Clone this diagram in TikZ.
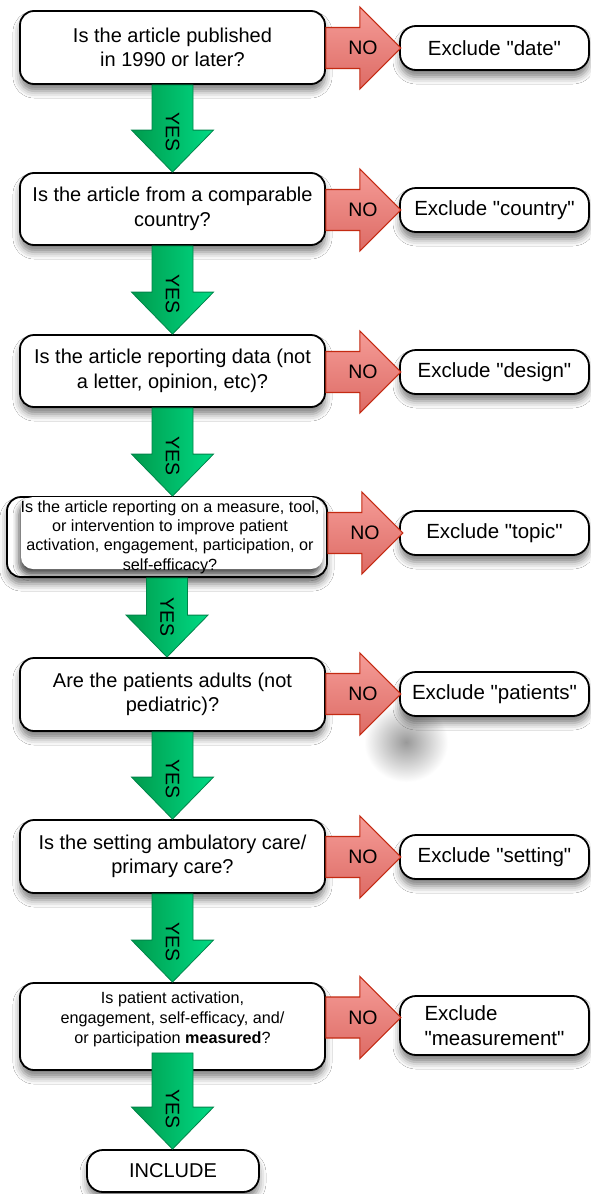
\documentclass[tikz,border=0pt]{standalone}
\usepackage{fontspec}
\setmainfont{Liberation Sans}[Ligatures=TeXOff]
\usetikzlibrary{calc,shadows.blur}
\definecolor{noTop}{HTML}{F59C97}
\definecolor{noBot}{HTML}{DD6B65}
\definecolor{noEdge}{HTML}{C42A12}
\definecolor{yesL}{HTML}{009A4C}
\definecolor{yesR}{HTML}{00DA84}
\definecolor{yesEdge}{HTML}{00854A}
\tikzset{
  boxshadow/.style={blur shadow={shadow xshift=0pt, shadow yshift=-7pt, shadow blur radius=7pt, shadow opacity=50}},
  qbox/.style={draw=black, line width=1.8pt, rounded corners=14pt, fill=white, align=center, inner sep=2pt,
    font=\fontsize{20}{24.5}\selectfont, boxshadow, minimum width=305pt},
  ebox/.style={qbox, rounded corners=16pt, minimum width=189pt, minimum height=44pt, font=\fontsize{20.5}{25}\selectfont},
  noarrow/.style={draw=noEdge, line width=1.1pt, top color=noTop, bottom color=noBot, line join=miter},
  yesarrow/.style={draw=yesEdge, line width=0.8pt, left color=yesL, right color=yesR, line join=miter},
  notext/.style={font=\fontsize{19.5}{19.5}\selectfont, inner sep=0pt},
  yestext/.style={font=\fontsize{19.5}{19.5}\selectfont, inner sep=0pt, rotate=-90},
}
\newcommand\noarrow[2]{%
  \draw[noarrow] ($(#2)+(0,20.5)$) -- ($(#2)+(34,20.5)$) -- ($(#2)+(34,41)$) -- ($(#2)+(75,0)$)
     -- ($(#2)+(34,-41)$) -- ($(#2)+(34,-20.5)$) -- ($(#2)+(0,-20.5)$) -- cycle;
  \node[notext] (#1) at ($(#2)+(37,0)$) {NO};}
\newcommand\yesarrow[3]{%
  \draw[yesarrow] let \p1=(#2), \p2=(#3) in (\x1-20.5pt,\y1) -- (\x1+20.5pt,\y1) -- (\x1+20.5pt,\y2+42pt)
     -- (\x1+41pt,\y2+42pt) -- (\x1,\y2) -- (\x1-41pt,\y2+42pt) -- (\x1-20.5pt,\y2+42pt) -- cycle;
  \path let \p1=(#2), \p2=(#3) in node[yestext] (#1) at (\x1,\y2+40pt) {YES};}
\begin{document}
\begin{tikzpicture}[x=1pt,y=-1pt]
\fill[white] (0,0) rectangle (590,1194);
\useasboundingbox (0,0) rectangle (590,1194);
% stray shadow
\shade[inner color=black!40, outer color=white] (406,742) ellipse [x radius=42pt, y radius=40pt];

% question boxes
\node[qbox, minimum height=73pt] (q1) at (172.5,47.5) {Is the article published\\in 1990 or later?};
\node[qbox, minimum height=72pt] (q2) at (172.5,209) {Is the article from a comparable\\country?};
\node[qbox, minimum height=72pt] (q3) at (172.5,371) {Is the article reporting data (not\\a letter, opinion, etc)?};
\node[qbox, minimum width=320pt, minimum height=80pt] (q4) at (167,537) {};
\node[fill=white, rounded corners=12pt, minimum width=302pt, minimum height=72pt,
      blur shadow={shadow xshift=-2pt, shadow yshift=-6pt, shadow blur radius=6pt, shadow opacity=70}] (q4in) at (172,533) {};
\node[align=center, inner sep=0pt, font=\fontsize{16.2}{19.3}\selectfont] (q4t) at (170,537)
  {Is the article reporting on a measure, tool,\\or intervention to improve patient\\activation, engagement, participation, or\\self-efficacy?};
\node[qbox, minimum height=73pt] (q5) at (172.5,694.5) {Are the patients adults (not\\pediatric)?};
\node[qbox, minimum height=73pt] (q6) at (172.5,856.5) {Is the setting ambulatory care/\\primary care?};
\node[qbox, minimum height=87pt] (q7) at (172.5,1026.5) {};
\node[align=center, inner sep=0pt, font=\fontsize{16.2}{20}\selectfont] (q7t) at (172.5,1019)
  {Is patient activation,\\engagement, self-efficacy, and/\\or participation \textbf{measured}?};
\node[qbox, rounded corners=16pt, minimum width=172pt, minimum height=42pt] (inc) at (173,1171) {INCLUDE};

% exclude boxes
\node[ebox] (e1) at (494.5,48) {Exclude "date"};
\node[ebox] (e2) at (494.5,210) {Exclude "country"};
\node[ebox] (e3) at (494.5,372) {Exclude "design"};
\node[ebox] (e4) at (494.5,533) {Exclude "topic"};
\node[ebox] (e5) at (494.5,694) {Exclude "patients"};
\node[ebox] (e6) at (494.5,857) {Exclude "setting"};
\node[ebox, minimum height=59pt, align=left] (e7) at (494.5,1025.5) {Exclude\\"measurement"};

% NO arrows
\coordinate (n1) at (q1.east |- e1.west);
\coordinate (n2) at (q2.east |- e2.west);
\coordinate (n3) at (q3.east |- e3.west);
\coordinate (n4) at (q4.east |- e4.west);
\coordinate (n5) at (q5.east |- e5.west);
\coordinate (n6) at (q6.east |- e6.west);
\coordinate (n7) at ([yshift=9pt]q7.east);
\noarrow{no1}{n1}
\noarrow{no2}{n2}
\noarrow{no3}{n3}
\noarrow{no4}{n4}
\noarrow{no5}{n5}
\noarrow{no6}{n6}
\noarrow{no7}{n7}

% YES arrows
\yesarrow{y1}{q1.south}{q2.north}
\yesarrow{y2}{q2.south}{q3.north}
\yesarrow{y3}{q3.south}{q4.north}
\yesarrow{y4}{q4.south}{q5.north}
\yesarrow{y5}{q5.south}{q6.north}
\yesarrow{y6}{q6.south}{q7.north}
\coordinate (y7s) at ([yshift=18pt]q7.south);
\yesarrow{y7}{y7s}{inc.north}
\end{tikzpicture}
\end{document}
